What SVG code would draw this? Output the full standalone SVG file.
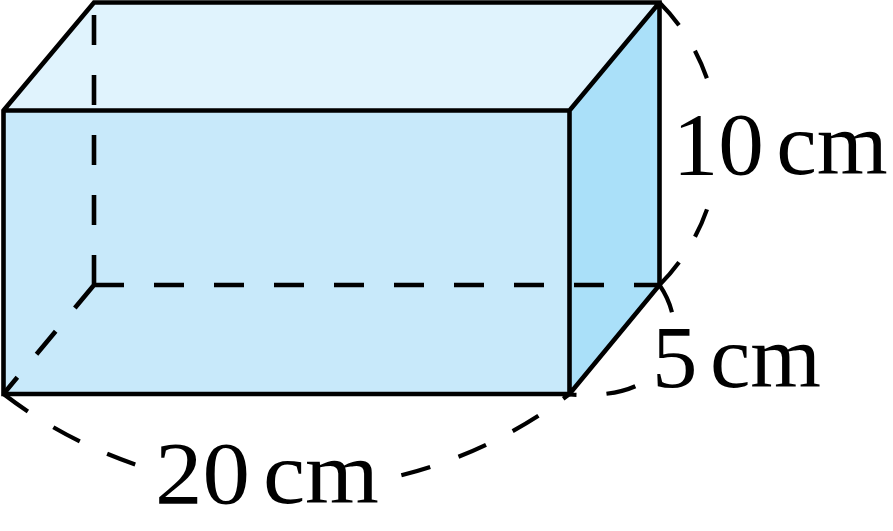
<svg xmlns="http://www.w3.org/2000/svg" width="893" height="531" viewBox="0 0 893 531">
  <style>
    .edge { fill: none; stroke: #000; stroke-width: 4.6; stroke-linejoin: miter; }
    .hidden { fill: none; stroke: #000; stroke-width: 4.6; stroke-dasharray: 30 30; }
    .dim { fill: none; stroke: #000; stroke-width: 4.2; stroke-dasharray: 30 30; }
    .label { font-family: "Liberation Serif", "Times New Roman", serif; font-size: 88px; fill: #000; word-spacing: -10px; }
  </style>
  <defs>
    <mask id="m20" maskUnits="userSpaceOnUse" x="0" y="0" width="893" height="531">
      <rect x="0" y="0" width="893" height="531" fill="#fff"/>
      <rect x="145" y="438" width="248" height="80" fill="#000"/>
    </mask>
    <mask id="m5" maskUnits="userSpaceOnUse" x="0" y="0" width="893" height="531">
      <rect x="0" y="0" width="893" height="531" fill="#fff"/>
      <rect x="650" y="318" width="180" height="60" fill="#000"/>
    </mask>
  </defs>

  <g id="cuboid">
    <polygon points="3.5,110.5 94,2.5 659.5,2.5 569.5,110.5" fill="#e0f3fd"/>
    <polygon points="3.5,110.5 569.5,110.5 569.5,394 3.5,394" fill="#c8e9fa"/>
    <polygon points="569.5,110.5 659.5,2.5 659.5,285 569.5,394" fill="#aae0f9"/>
    <path class="hidden" d="M94,285 L94,2.5 M94,285 L659.5,285 M94,285 L3.5,394"/>
    <path class="edge" d="M3.5,110.5 L94,2.5 L659.5,2.5 L659.5,285 L569.5,394 L3.5,394 Z M3.5,110.5 L569.5,110.5 L569.5,394 M569.5,110.5 L659.5,2.5"/>
  </g>

  <g id="connectors">
    <path class="dim" d="M3.5,394 A466.5,466.5 0 0,0 569.5,394" mask="url(#m20)"/>
    <path class="dim" d="M659.5,2.5 A201,201 0 0,1 710,88"/>
    <path class="dim" d="M659.5,285 A201,201 0 0,0 710,200"/>
    <path class="dim" d="M659.5,285 C680,315 682,355 645,381 C625,394 598,396 569.5,394.5" mask="url(#m5)"/>
  </g>

  <g id="label-20cm">
    <text class="label" x="155" y="503" textLength="224" lengthAdjust="spacingAndGlyphs">20 cm</text>
  </g>
  <g id="label-10cm">
    <text class="label" x="672.7" y="174" textLength="215" lengthAdjust="spacingAndGlyphs">10 cm</text>
  </g>
  <g id="label-5cm">
    <text class="label" x="652" y="387" textLength="169" lengthAdjust="spacingAndGlyphs">5 cm</text>
  </g>
</svg>
